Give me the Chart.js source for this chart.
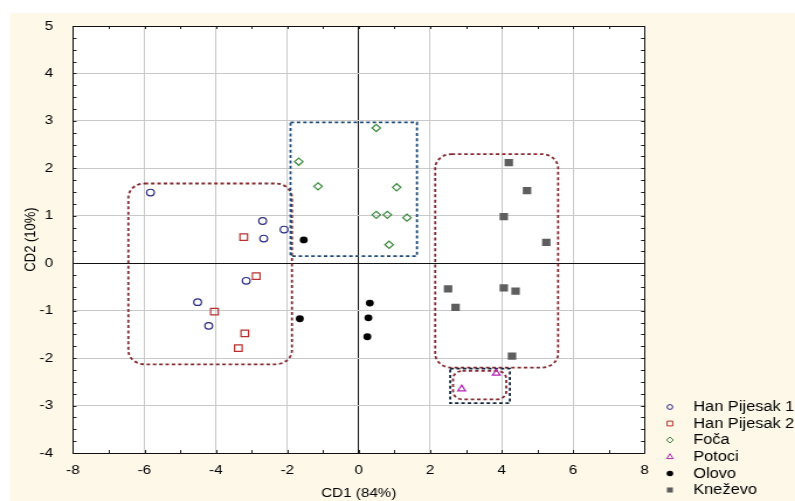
<!DOCTYPE html>
<html>
<head>
<meta charset="utf-8">
<title>CD1 / CD2</title>
<script src="https://cdn.jsdelivr.net/npm/chart.js@4.4.1/dist/chart.umd.min.js"></script>
<style>
  html, body { margin: 0; padding: 0; background: #fff; }
  /* drawn narrow, then widened to the full window */
  #cd { display: block; width: 795px; height: 501px; }
</style>
</head>
<body>
<canvas id="cd" width="680" height="501" style="width:795px;height:501px"></canvas>
<script>
// canonical discriminant scores per locality
const hanPijesak1X = [-5.83, -2.69, -2.66, -2.09, -3.15, -4.51, -4.20];
const hanPijesak1Y = [1.49, 0.89, 0.52, 0.71, -0.37, -0.82, -1.32];
const hanPijesak2X = [-3.22, -2.87, -4.04, -3.19, -3.37];
const hanPijesak2Y = [0.55, -0.27, -1.02, -1.48, -1.79];
const focaX = [0.49, -1.68, -1.14, 1.06, 0.49, 0.80, 1.35, 0.85];
const focaY = [2.85, 2.14, 1.62, 1.60, 1.02, 1.02, 0.96, 0.39];
const potociX = [2.88, 3.85];
const potociY = [-2.65, -2.32];
const olovoX = [-1.54, -1.65, 0.31, 0.27, 0.24];
const olovoY = [0.49, -1.17, -0.84, -1.15, -1.55];
const knezevoX = [4.20, 4.71, 4.06, 5.25, 2.50, 4.06, 4.39, 2.71, 4.29];
const knezevoY = [2.12, 1.53, 0.98, 0.44, -0.54, -0.52, -0.59, -0.93, -1.96];

const groupNames = ['Han Pijesak 1', 'Han Pijesak 2', 'Foča', 'Potoci', 'Olovo', 'Kneževo'];

const xTicks = [-8, -6, -4, -2, 0, 2, 4, 6, 8];
const yTicks = [-4, -3, -2, -1, 0, 1, 2, 3, 4, 5];

// grouping outlines (data units): left, right, bottom, top
const clusterLeft = [-6.45, -1.87, -2.13, 1.68];
const clusterFoca = [-1.91, 1.63, 0.15, 2.97];
const clusterRight = [2.14, 5.58, -2.20, 2.30];
const clusterPotociInner = [2.64, 4.13, -2.87, -2.27];
const clusterPotociOuter = [2.56, 4.23, -2.95, -2.22];

const pts = (xs, ys) => xs.map((x, i) => ({ x: x, y: ys[i] }));

const FONT = { family: "'Liberation Sans', Arial, sans-serif", size: 13 };

const datasets = [
  { label: groupNames[0], data: pts(hanPijesak1X, hanPijesak1Y), pointStyle: 'circle', radius: 3.3,
    borderColor: '#2b2b86', backgroundColor: 'rgba(0,0,0,0)', borderWidth: 1.2 },
  { label: groupNames[1], data: pts(hanPijesak2X, hanPijesak2Y), pointStyle: 'rect', radius: 4.6,
    borderColor: '#b8302e', backgroundColor: 'rgba(0,0,0,0)', borderWidth: 1.2 },
  { label: groupNames[2], data: pts(focaX, focaY), pointStyle: 'rectRot', radius: 3.6,
    borderColor: '#3d8a3d', backgroundColor: 'rgba(0,0,0,0)', borderWidth: 1.2 },
  { label: groupNames[3], data: pts(potociX, potociY), pointStyle: 'triangle', radius: 3.8,
    borderColor: '#b424b4', backgroundColor: 'rgba(0,0,0,0)', borderWidth: 1.2 },
  { label: groupNames[4], data: pts(olovoX, olovoY), pointStyle: 'circle', radius: 3.4,
    borderColor: '#000', backgroundColor: '#000', borderWidth: 0 },
  { label: groupNames[5], data: pts(knezevoX, knezevoY), pointStyle: 'rect', radius: 5.1,
    borderColor: '#5e5e5e', backgroundColor: '#5e5e5e', borderWidth: 0 }
];

// cream page behind the axes
const paperPlugin = {
  id: 'paper',
  beforeDraw(chart) {
    const ctx = chart.ctx;
    ctx.save();
    ctx.fillStyle = '#fdf8e7';
    ctx.fillRect(8.5, 13, chart.width, chart.height);
    const a = chart.chartArea;
    ctx.fillStyle = '#fff';
    ctx.fillRect(a.left, a.top, a.right - a.left, a.bottom - a.top);
    ctx.restore();
  }
};

// dashed outlines around the clusters
const outlinePlugin = {
  id: 'outlines',
  beforeDatasetsDraw(chart) {
    const ctx = chart.ctx;
    const sx = chart.scales.x, sy = chart.scales.y;
    const box = (b, color, radius) => {
      const l = sx.getPixelForValue(b[0]), r = sx.getPixelForValue(b[1]);
      const t = sy.getPixelForValue(b[3]), btm = sy.getPixelForValue(b[2]);
      ctx.beginPath();
      if (radius) ctx.roundRect(l, t, r - l, btm - t, radius);
      else ctx.rect(l, t, r - l, btm - t);
      ctx.strokeStyle = color;
      ctx.stroke();
    };
    ctx.save();
    ctx.lineWidth = 1.8;
    ctx.setLineDash([3, 2.4]);
    box(clusterLeft, '#832a32', 14);
    box(clusterFoca, '#1f4a78', 0);
    box(clusterRight, '#832a32', 14);
    box(clusterPotociOuter, '#15233d', 0);
    box(clusterPotociInner, '#832a32', 8);
    ctx.restore();
  }
};

// frame, minor ticks and the legend
const framePlugin = {
  id: 'frame',
  afterDraw(chart) {
    const ctx = chart.ctx;
    const a = chart.chartArea;
    const sx = chart.scales.x, sy = chart.scales.y;
    ctx.save();
    ctx.strokeStyle = '#222';
    ctx.lineWidth = 1;
    ctx.beginPath();
    for (let v = -8; v <= 8; v += 1) {
      const p = Math.round(sx.getPixelForValue(v)) + 0.5;
      ctx.moveTo(p, a.bottom); ctx.lineTo(p, a.bottom - 3);
      ctx.moveTo(p, a.top); ctx.lineTo(p, a.top + 3);
    }
    for (let v = -4; v <= 5; v += 0.25) {
      const p = Math.round(sy.getPixelForValue(v)) + 0.5;
      ctx.moveTo(a.left, p); ctx.lineTo(a.left + 3, p);
      ctx.moveTo(a.right, p); ctx.lineTo(a.right - 3, p);
    }
    ctx.stroke();
    ctx.beginPath();
    ctx.strokeStyle = '#111';
    ctx.rect(Math.round(a.left) + 0.5, Math.round(a.top) + 0.5,
             Math.round(a.right - a.left), Math.round(a.bottom - a.top));
    ctx.stroke();

    // legend
    const rows = [407, 423.5, 440, 457, 473.5, 490];
    const sizes = [2.4, 3.4, 3, 3.2, 2.8, 3.6];
    ctx.font = '14px ' + FONT.family;
    ctx.textBaseline = 'middle';
    ctx.textAlign = 'left';
    chart.data.datasets.forEach((ds, i) => {
      const y = rows[i];
      ctx.fillStyle = ds.backgroundColor;
      ctx.strokeStyle = ds.borderColor;
      ctx.lineWidth = 1;
      Chart.helpers.drawPoint(ctx, {
        pointStyle: ds.pointStyle, radius: sizes[i], rotation: 0,
        borderWidth: ds.borderWidth > 0 ? 1 : 0
      }, 573, y);
      ctx.fillStyle = '#000';
      ctx.fillText(ds.label, 593, y + 0.5);
    });
    ctx.restore();
  }
};

const gridColor = c => (c.tick && c.tick.value === 0) ? '#111' : '#c9c9c9';

new Chart(document.getElementById('cd'), {
  type: 'scatter',
  data: { datasets: datasets },
  options: {
    responsive: false,
    animation: false,
    devicePixelRatio: 1,
    layout: { padding: { top: 26, right: 128.7, left: 0, bottom: 0 } },
    plugins: { legend: { display: false }, tooltip: { enabled: false } },
    elements: { point: { hoverRadius: 4 } },
    scales: {
      x: {
        type: 'linear', min: -8, max: 8,
        afterFit: s => { s.height = 48; },
        afterBuildTicks: s => { s.ticks = xTicks.map(v => ({ value: v })); },
        grid: { color: gridColor, lineWidth: 1, drawTicks: false },
        border: { display: false },
        ticks: { color: '#000', font: FONT, padding: 10, maxRotation: 0 },
        title: { display: true, text: 'CD1 (84%)', color: '#000', font: FONT, padding: { top: 0, bottom: 0 } }
      },
      y: {
        type: 'linear', min: -4, max: 5,
        afterFit: s => { s.width = 62.4; },
        afterBuildTicks: s => { s.ticks = yTicks.map(v => ({ value: v })); },
        grid: { color: gridColor, lineWidth: 1, drawTicks: false },
        border: { display: false },
        ticks: { color: '#000', font: FONT, padding: 17 },
        title: { display: true, text: 'CD2 (10%)', color: '#000', font: FONT, padding: { top: 19, bottom: 0 } }
      }
    }
  },
  plugins: [paperPlugin, outlinePlugin, framePlugin]
});
</script>
</body>
</html>
